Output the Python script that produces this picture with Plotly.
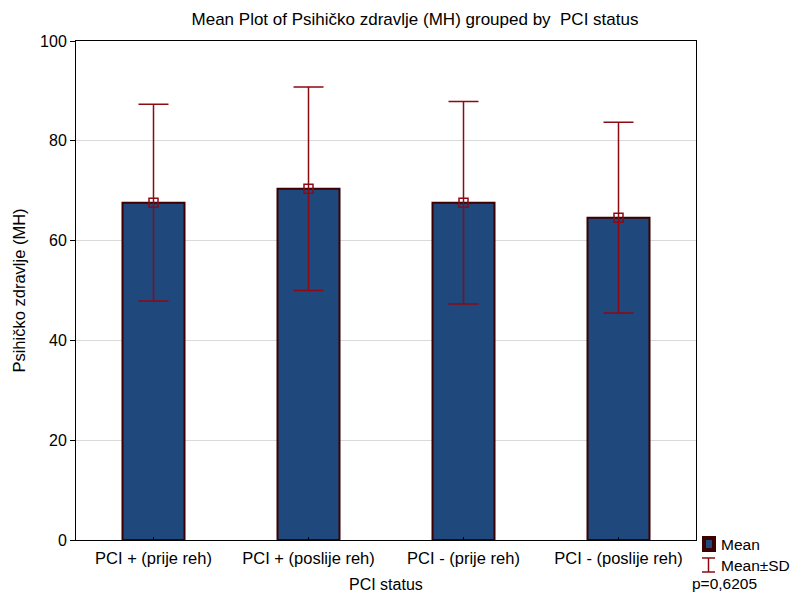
import plotly.graph_objects as go

categories = ["PCI + (prije reh)", "PCI + (poslije reh)", "PCI - (prije reh)", "PCI - (poslije reh)"]
means = [67.6, 70.4, 67.6, 64.6]
sds = [19.7, 20.4, 20.3, 19.1]

title = "Mean Plot of Psihičko zdravlje (MH) grouped by  PCI status"
ytitle = "Psihičko zdravlje (MH)"
xtitle = "PCI status"
pval = "p=0,6205"

FONT = "Liberation Sans, Arial, sans-serif"
bar_fill = "rgb(31,73,125)"
bar_line = "rgb(60,0,0)"
err_col = "rgb(140,10,20)"

W, H = 790, 586
L, R, T, B = 68, 102, 33, 54
PW, PH = W - L - R, H - T - B


def px(x):
    return (x - L) / PW


def py(y):
    return (H - B - y) / PH


fig = go.Figure()
fig.add_trace(go.Bar(
    x=categories, y=means, width=0.4,
    marker=dict(color=bar_fill, line=dict(color=bar_line, width=2)),
    showlegend=False, hoverinfo="skip",
))
fig.add_trace(go.Scatter(
    x=categories, y=means, mode="markers",
    marker=dict(symbol="square-open", size=9, color=err_col, line=dict(width=1.5, color=err_col)),
    error_y=dict(type="data", array=sds, visible=True, color=err_col, thickness=1.5, width=15),
    showlegend=False, hoverinfo="skip",
))

fig.update_layout(
    width=W, height=H,
    margin=dict(l=L, r=R, t=T, b=B, autoexpand=False),
    paper_bgcolor="white", plot_bgcolor="white",
    font=dict(family=FONT, size=16, color="black"),
    title=dict(text=title, x=407 / W, xanchor="center", xref="container", y=1, yref="container",
               yanchor="top", pad=dict(t=5), font=dict(size=17)),
    showlegend=False,
)
fig.update_xaxes(
    range=[-0.5, 3.5], showline=True, linecolor="black", linewidth=1, mirror=True,
    ticks="inside", ticklen=3, tickcolor="black", showgrid=False, automargin=False,
    ticklabelstandoff=3,
    tickfont=dict(size=16.5),
)
fig.update_yaxes(
    range=[0, 100], dtick=20, showline=True, linecolor="black", linewidth=1, mirror=True,
    ticks="outside", ticklen=5, tickcolor="black", automargin=False,
    showgrid=True, gridcolor="rgb(217,217,217)", gridwidth=1, zeroline=False,
    title=dict(text=ytitle, font=dict(size=16.5), standoff=10),
    tickfont=dict(size=16),
)

# x-axis title
fig.add_annotation(text=xtitle, xref="paper", yref="paper", x=0.5, y=py(576), xanchor="center",
                   yanchor="middle", showarrow=False, font=dict(size=16))

# legend glyphs (pixel positions converted to paper coordinates)
fig.add_shape(type="rect", xref="paper", yref="paper", x0=px(694), x1=px(708), y0=py(528), y1=py(544),
              fillcolor=bar_line, line=dict(width=0))
fig.add_shape(type="rect", xref="paper", yref="paper", x0=px(698), x1=px(704), y0=py(532), y1=py(540),
              fillcolor=bar_fill, line=dict(width=0))
fig.add_shape(type="line", xref="paper", yref="paper", x0=px(700.5), x1=px(700.5), y0=py(550), y1=py(564),
              line=dict(color=err_col, width=1.5))
fig.add_shape(type="line", xref="paper", yref="paper", x0=px(694), x1=px(707), y0=py(550), y1=py(550),
              line=dict(color=err_col, width=1.5))
fig.add_shape(type="line", xref="paper", yref="paper", x0=px(694), x1=px(707), y0=py(564), y1=py(564),
              line=dict(color=err_col, width=1.5))
fig.add_annotation(text="Mean", xref="paper", yref="paper", x=px(711), y=py(536), xanchor="left",
                   yanchor="middle", showarrow=False, font=dict(size=15.5))
fig.add_annotation(text="Mean±SD", xref="paper", yref="paper", x=px(711), y=py(557), xanchor="left",
                   yanchor="middle", showarrow=False, font=dict(size=15.5))
fig.add_annotation(text=pval, xref="paper", yref="paper", x=px(682), y=py(575), xanchor="left",
                   yanchor="middle", showarrow=False, font=dict(size=15.5))

fig.write_html("out.html")
